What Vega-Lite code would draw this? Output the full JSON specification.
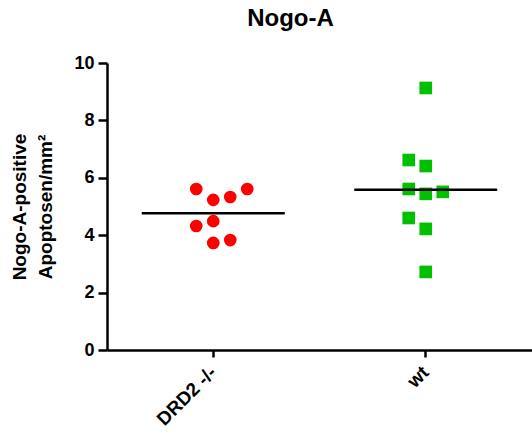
{
  "$schema": "https://vega.github.io/schema/vega-lite/v6.json",
  "width": 425,
  "height": 287,
  "autosize": "none",
  "padding": {"left": 107, "top": 63, "right": 0, "bottom": 89},
  "title": {"text": "Nogo-A", "fontSize": 24, "font": "Liberation Sans", "fontWeight": "bold", "color": "black", "anchor": "middle", "dx": -29, "offset": 23},
  "data": {"values": [
    {"group": "DRD2 -/-", "slot": -1, "value": 5.61},
    {"group": "DRD2 -/-", "slot": 0, "value": 5.23},
    {"group": "DRD2 -/-", "slot": 1, "value": 5.33},
    {"group": "DRD2 -/-", "slot": 2, "value": 5.61},
    {"group": "DRD2 -/-", "slot": -1, "value": 4.32},
    {"group": "DRD2 -/-", "slot": 0, "value": 4.49},
    {"group": "DRD2 -/-", "slot": 0, "value": 3.73},
    {"group": "DRD2 -/-", "slot": 1, "value": 3.83},
    {"group": "wt", "slot": 0, "value": 9.13},
    {"group": "wt", "slot": -1, "value": 6.62},
    {"group": "wt", "slot": 0, "value": 6.41},
    {"group": "wt", "slot": -1, "value": 5.61},
    {"group": "wt", "slot": 0, "value": 5.44},
    {"group": "wt", "slot": 1, "value": 5.51},
    {"group": "wt", "slot": -1, "value": 4.60},
    {"group": "wt", "slot": 0, "value": 4.22},
    {"group": "wt", "slot": 0, "value": 2.72}
  ]},
  "encoding": {
    "x": {"field": "group", "type": "nominal", "sort": null,
      "scale": {"paddingInner": 0, "paddingOuter": 0},
      "axis": {"title": null, "labelAngle": -45, "labelAlign": "right", "labelBaseline": "middle", "labelFontSize": 19, "labelFontWeight": "bold", "labelFont": "Liberation Sans", "labelColor": "black", "tickSize": 7, "tickWidth": 2.5, "tickColor": "black", "domainColor": "black", "domainWidth": 2.5, "labelPadding": 12}},
    "y": {"field": "value", "type": "quantitative",
      "scale": {"domain": [0, 10], "nice": false},
      "axis": {"values": [0, 2, 4, 6, 8, 10], "grid": false, "title": ["Nogo-A-positive", "Apoptosen/mm²"], "titleFontSize": 19, "titleFont": "Liberation Sans", "titleFontWeight": "bold", "titleColor": "black", "titlePadding": 18, "titleLineHeight": 26, "labelFontSize": 18, "labelFontWeight": "bold", "labelFont": "Liberation Sans", "labelColor": "black", "tickSize": 9, "tickWidth": 2.5, "tickColor": "black", "domainColor": "black", "domainWidth": 2.5, "labelPadding": 4}}
  },
  "layer": [
    {
      "mark": {"type": "point", "filled": true, "opacity": 1, "size": 160},
      "encoding": {
        "xOffset": {"field": "slot", "type": "quantitative", "scale": {"domain": [-6.25, 6.25], "range": [0, 212.5]}},
        "color": {"field": "group", "type": "nominal", "scale": {"domain": ["DRD2 -/-", "wt"], "range": ["#FF0000", "#00C000"]}, "legend": null},
        "shape": {"field": "group", "type": "nominal", "scale": {"domain": ["DRD2 -/-", "wt"], "range": ["circle", "square"]}, "legend": null}
      }
    },
    {
      "mark": {"type": "tick", "color": "black", "size": 143, "thickness": 2.5, "opacity": 1},
      "encoding": {
        "y": {"aggregate": "mean", "field": "value", "type": "quantitative"}
      }
    }
  ],
  "config": {"view": {"stroke": null}, "font": "Liberation Sans"}
}
